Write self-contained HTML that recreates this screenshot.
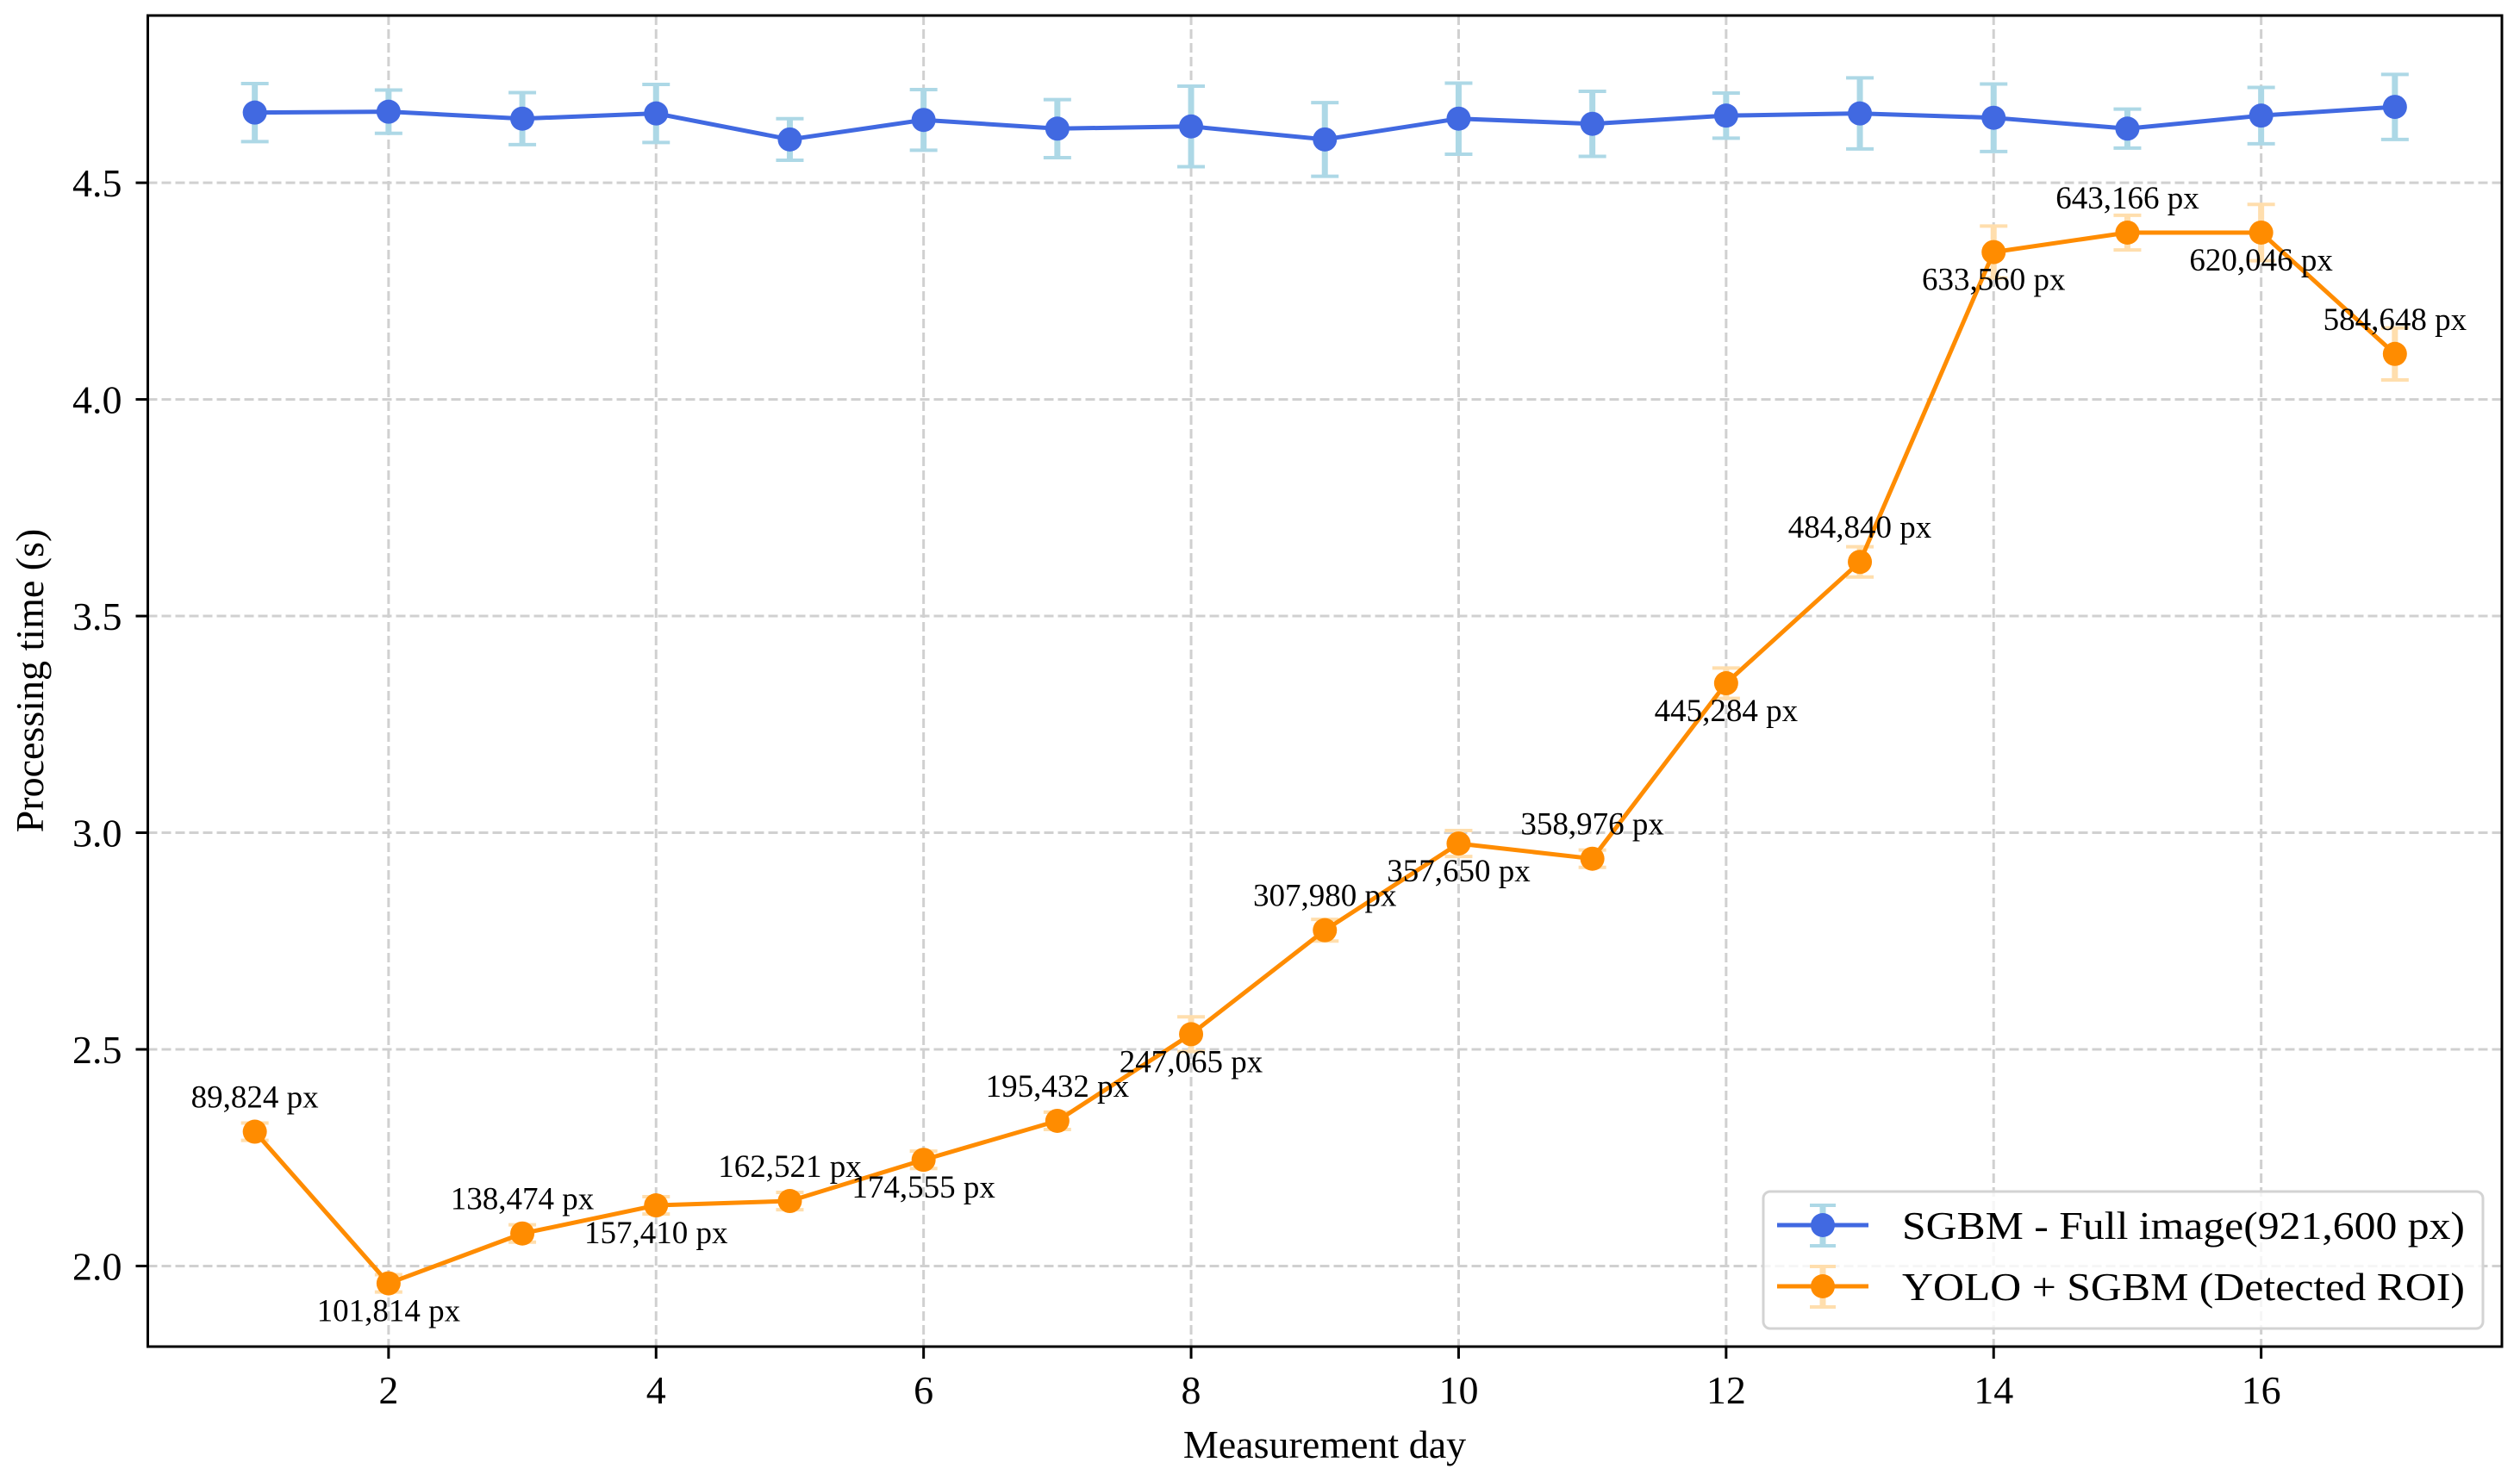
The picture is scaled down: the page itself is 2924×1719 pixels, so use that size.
<!DOCTYPE html>
<html><head><meta charset="utf-8"><style>
html,body{margin:0;padding:0;background:#fff}
svg{display:block;font-family:"Liberation Serif",serif}
</style></head><body>
<svg id="chart" width="2924" height="1719" viewBox="0 0 2924 1719" xmlns="http://www.w3.org/2000/svg">
<rect width="2924" height="1719" fill="#fff"/>
<g id="grid"></g>
<g id="series"></g>
<g id="axes"></g>
<text x="1537" y="1692" font-size="46" text-anchor="middle">Measurement day</text>
<text transform="translate(50,790) rotate(-90)" font-size="46" text-anchor="middle">Processing time (s)</text>
<g>
<rect x="2046" y="1383" width="835" height="159" rx="8" fill="#fff" fill-opacity="0.8" stroke="#d3d3d3" stroke-width="3"/>
<g>
<line x1="2115" y1="1399" x2="2115" y2="1446" stroke="#add8e6" stroke-width="7"/>
<line x1="2100" y1="1399" x2="2130" y2="1399" stroke="#add8e6" stroke-width="4"/>
<line x1="2100" y1="1446" x2="2130" y2="1446" stroke="#add8e6" stroke-width="4"/>
<line x1="2062" y1="1422" x2="2168" y2="1422" stroke="#4169e1" stroke-width="5"/>
<circle cx="2115" cy="1422" r="14" fill="#4169e1"/>
<text x="2207" y="1438" font-size="46" textLength="653" lengthAdjust="spacingAndGlyphs">SGBM - Full image(921,600 px)</text>
</g>
<g>
<line x1="2115" y1="1470" x2="2115" y2="1517" stroke="#ffdead" stroke-width="7"/>
<line x1="2100" y1="1470" x2="2130" y2="1470" stroke="#ffdead" stroke-width="4"/>
<line x1="2100" y1="1517" x2="2130" y2="1517" stroke="#ffdead" stroke-width="4"/>
<line x1="2062" y1="1493" x2="2168" y2="1493" stroke="#ff8c00" stroke-width="5"/>
<circle cx="2115" cy="1493" r="14" fill="#ff8c00"/>
<text x="2207" y="1509" font-size="46" textLength="653" lengthAdjust="spacingAndGlyphs">YOLO + SGBM (Detected ROI)</text>
</g>
</g>
</svg>
<script>
const days = [1,2,3,4,5,6,7,8,9,10,11,12,13,14,15,16,17];
const sgbmTime = [4.662,4.664,4.648,4.66,4.60,4.645,4.625,4.63,4.60,4.648,4.636,4.655,4.66,4.65,4.625,4.655,4.675];
const sgbmErr = [0.067,0.05,0.06,0.067,0.048,0.07,0.067,0.093,0.085,0.082,0.075,0.052,0.082,0.078,0.045,0.065,0.075];
const yoloTime = [2.31,1.96,2.075,2.14,2.15,2.245,2.335,2.535,2.775,2.975,2.94,3.345,3.625,4.34,4.385,4.385,4.105];
const yoloErr = [0.02,0.02,0.02,0.02,0.02,0.02,0.02,0.04,0.025,0.03,0.02,0.035,0.035,0.06,0.04,0.065,0.06];
const roiLabels = ["89,824 px","101,814 px","138,474 px","157,410 px","162,521 px","174,555 px","195,432 px","247,065 px","307,980 px","357,650 px","358,976 px","445,284 px","484,840 px","633,560 px","643,166 px","620,046 px","584,648 px"];
const xTicks = [2,4,6,8,10,12,14,16];
const yTicks = [2.0,2.5,3.0,3.5,4.0,4.5];

const L=171.5,R=2903,T=18,B=1563;
const xMin=0.2,xMax=17.8,yMin=1.814,yMax=4.886;
const X=v=>L+(v-xMin)/(xMax-xMin)*(R-L);
const Y=v=>B-(v-yMin)/(yMax-yMin)*(B-T);
const NS="http://www.w3.org/2000/svg";
function mk(parent,tag,attrs,text){const e=document.createElementNS(NS,tag);for(const k in attrs)e.setAttribute(k,attrs[k]);if(text!==undefined)e.textContent=text;parent.appendChild(e);return e;}
const grid=document.getElementById('grid'),series=document.getElementById('series'),axes=document.getElementById('axes');

xTicks.forEach(t=>{
  const g=mk(grid,'line',{x1:X(t),x2:X(t),y1:T,y2:B,stroke:'#d0d0d0','stroke-width':3,'stroke-dasharray':'11,5'});
  
  
  const tk=mk(axes,'line',{x1:X(t),x2:X(t),y1:B,y2:B+14,stroke:'#000','stroke-width':3});
  
  
  const lb=mk(axes,'text',{x:X(t),y:B+66,'font-size':46,'text-anchor':'middle'},String(t));
  
  
});
yTicks.forEach(t=>{
  const g=mk(grid,'line',{x1:L,x2:R,y1:Y(t),y2:Y(t),stroke:'#d0d0d0','stroke-width':3,'stroke-dasharray':'11,5'});
  
  
  const tk=mk(axes,'line',{x1:L-14,x2:L,y1:Y(t),y2:Y(t),stroke:'#000','stroke-width':3});
  
  
  const lb=mk(axes,'text',{x:L-30,y:Y(t)+16,'font-size':46,'text-anchor':'end'},t.toFixed(1));
  
  
});
const frame=mk(axes,'rect',{x:L,y:T,width:R-L,height:B-T,fill:'none',stroke:'#000','stroke-width':3});



function drawSeries(vals,errs,col,ecol,name){
  vals.forEach((v,i)=>{
    const x=X(days[i]);
    const e=mk(series,'g',{});
    
    
    mk(e,'line',{x1:x,x2:x,y1:Y(v+errs[i]),y2:Y(v-errs[i]),stroke:ecol,'stroke-width':7});
    mk(e,'line',{x1:x-16,x2:x+16,y1:Y(v+errs[i]),y2:Y(v+errs[i]),stroke:ecol,'stroke-width':4});
    mk(e,'line',{x1:x-16,x2:x+16,y1:Y(v-errs[i]),y2:Y(v-errs[i]),stroke:ecol,'stroke-width':4});
  });
  const pl=mk(series,'polyline',{points:vals.map((v,i)=>X(days[i])+','+Y(v)).join(' '),fill:'none',stroke:col,'stroke-width':5,'stroke-linejoin':'round'});
  
  
  vals.forEach((v,i)=>{
    const c=mk(series,'circle',{cx:X(days[i]),cy:Y(v),r:14,fill:col});
    
    
  });
}
drawSeries(sgbmTime,sgbmErr,'#4169e1','#add8e6','sgbm');
drawSeries(yoloTime,yoloErr,'#ff8c00','#ffdead','yolo');

yoloTime.forEach((v,i)=>{
  const above=(i%2===0);
  const y=above?Y(v)-28:Y(v)+44;
  const t=mk(series,'text',{x:X(days[i]),y:y,'font-size':37,'text-anchor':'middle'},roiLabels[i]);
  
  
});
</script>
</body></html>
